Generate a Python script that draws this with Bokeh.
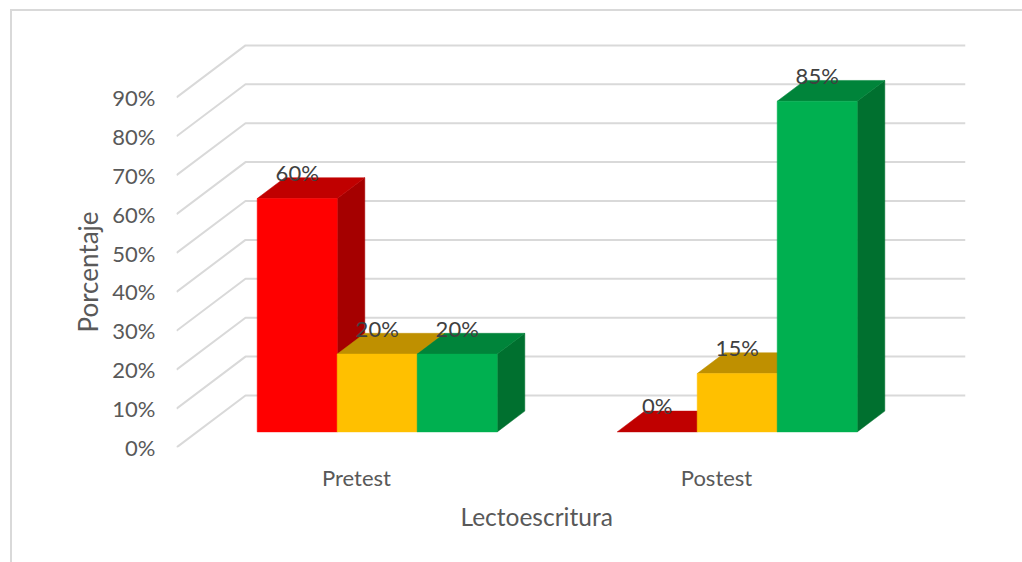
from bokeh.embed import file_html
from bokeh.resources import INLINE
from bokeh.plotting import figure
from bokeh.models import FixedTicker, Title
from bokeh.core.properties import value

categories = ["Pretest", "Postest"]
series_red = [60, 0]
series_yellow = [20, 15]
series_green = [20, 85]
tick_values = [0, 10, 20, 30, 40, 50, 60, 70, 80, 90]
tick_labels = ["0%", "10%", "20%", "30%", "40%", "50%", "60%", "70%", "80%", "90%"]
face_colors = ["#FF0000", "#FFC000", "#00B050"]
top_colors = ["#C00000", "#BF9000", "#00843A"]
side_colors = ["#A50000", "#BF9000", "#00702F"]

FONT = "Lato"
W, H = 1022, 562
X_MAX = 789 / 360
Y_MAX = 407 / 3.89
DX, DY = 69 / 360, 52 / 3.89          # depth of the floor in axis units
BAR_W = 80 / 360
FRONT, DEPTH = 0.3, 0.4               # where bars sit in the depth

p = figure(width=W, height=H, output_backend="svg", toolbar_location=None,
           x_range=(0, X_MAX), y_range=(0, Y_MAX),
           min_border_left=176, min_border_right=W - 965,
           min_border_top=40, min_border_bottom=H - 447)
p.outline_line_color = None
p.grid.visible = False

# y axis
ya = p.yaxis[0]
ya.ticker = FixedTicker(ticks=tick_values)
ya.major_label_overrides = {v: s for v, s in zip(tick_values, tick_labels)}
ya.axis_line_color = None
ya.major_tick_line_color = None
ya.minor_tick_line_color = None
ya.major_tick_in = 0
ya.major_tick_out = 0
ya.major_label_standoff = 21
ya.major_label_text_font = FONT
ya.major_label_text_font_size = "22px"
ya.major_label_text_color = "#595959"

# x axis
xa = p.xaxis[0]
positions = [i + 0.5 for i in range(len(categories))]
xa.ticker = FixedTicker(ticks=positions)
xa.major_label_overrides = {v: s for v, s in zip(positions, categories)}
xa.axis_line_color = None
xa.major_tick_line_color = None
xa.minor_tick_line_color = None
xa.major_tick_in = 0
xa.major_tick_out = 0
xa.major_label_standoff = 16
xa.major_label_text_font = FONT
xa.major_label_text_font_size = "22px"
xa.major_label_text_color = "#595959"

# axis titles, placed off-centre as in the reference
p.add_layout(Title(text="Porcentaje", align="left", offset=115, standoff=11,
                   text_font=FONT, text_font_size="26px", text_font_style="normal",
                   text_color="#595959"), "left")
p.add_layout(Title(text="Lectoescritura", align="left", offset=284, standoff=13,
                   text_font=FONT, text_font_size="24.5px", text_font_style="normal",
                   text_color="#595959"), "below")

# 3D wall and floor gridlines
p.multi_line([[0, DX, X_MAX] for _ in tick_values],
             [[v, v + DY, v + DY] for v in tick_values],
             line_color="#D9D9D9", line_width=2)

# bars
series = [series_red, series_yellow, series_green]
lab_x, lab_y, lab_t = [], [], []
for g, pos in enumerate(positions):
    x0 = pos + FRONT * DX - BAR_W * len(series) / 2
    base = FRONT * DY
    ddx, ddy = DEPTH * DX, DEPTH * DY
    for s, vals in enumerate(series):
        v = vals[g]
        l, r = x0 + s * BAR_W, x0 + (s + 1) * BAR_W
        top = base + v
        if v > 0:
            p.patch([r, r + ddx, r + ddx, r], [base, base + ddy, top + ddy, top],
                    fill_color=side_colors[s], line_color=side_colors[s], line_width=0.5)
        p.patch([l, r, r + ddx, l + ddx], [top, top, top + ddy, top + ddy],
                fill_color=top_colors[s], line_color=top_colors[s], line_width=0.5)
        if v > 0:
            p.patch([l, r, r, l], [base, base, top, top],
                    fill_color=face_colors[s], line_color=face_colors[s], line_width=0.5)
        lab_x.append((l + r) / 2)
        lab_y.append(top)
        lab_t.append(f"{v}%")

p.text(lab_x, lab_y, text=lab_t, text_align="center", text_baseline="middle",
       y_offset=-26, text_font=value(FONT), text_font_size="22px", text_color="#404040")

# chart-area border, seen on its left and top edges (painted behind a transparent canvas)
p.border_fill_color = None
p.background_fill_color = None
p.styles = {"background":
            "linear-gradient(#D9D9D9,#D9D9D9) 10px 9px / 1012px 2px no-repeat,"
            "linear-gradient(#D9D9D9,#D9D9D9) 10px 9px / 2px 553px no-repeat"}

open("out.html", "w").write(file_html(p, INLINE))
